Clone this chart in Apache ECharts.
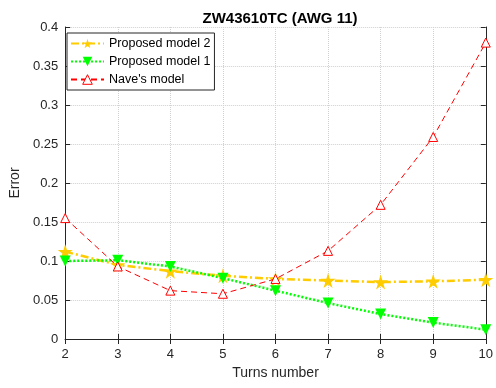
<!DOCTYPE html>
<html>
<head>
<meta charset="utf-8">
<script src="https://cdn.jsdelivr.net/npm/echarts@6/dist/echarts.min.js"></script>
<style>
html,body{margin:0;padding:0;background:#fff;}
#chart{width:496px;height:388px;}
</style>
</head>
<body>
<div id="chart"></div>
<script>
// Turns number on the x axis
const turns = [2, 3, 4, 5, 6, 7, 8, 9, 10];
// Error for each model
const proposed2 = [0.112, 0.095, 0.087, 0.081, 0.077, 0.075, 0.073, 0.074, 0.076];
const proposed1 = [0.100, 0.101, 0.093, 0.078, 0.062, 0.046, 0.032, 0.021, 0.012];
const naveModel = [0.155, 0.093, 0.062, 0.058, 0.077, 0.113, 0.172, 0.259, 0.380];
const seriesNames = ['Proposed model 2', 'Proposed model 1', "Nave's model"];

const FONT = '"Liberation Sans", Arial, sans-serif';
const starPath = 'path://M50,0 L61,35 L98,35 L68,57 L79,91 L50,70 L21,91 L32,57 L2,35 L39,35 Z';

const pairs = vals => turns.map((t, i) => [t, vals[i]]);

const chart = echarts.init(document.getElementById('chart'), null, {renderer: 'canvas'});

const axisLine = {show: true, lineStyle: {color: '#262626', width: 1}};
const gridLine = {show: true, lineStyle: {color: '#d0d0d0', type: [1, 1], width: 1}};
const ticks = {show: true, inside: true, length: 5, lineStyle: {color: '#262626'}};

chart.setOption({
  animation: false,
  backgroundColor: '#fff',
  title: {
    text: 'ZW43610TC (AWG 11)',
    left: 275, top: 6, textAlign: 'center',
    textStyle: {fontFamily: FONT, fontSize: 15, fontWeight: 'bold', color: '#000'}
  },
  grid: {left: 62, right: 9, top: 27, bottom: 49},
  legend: {
    data: [
      {name: seriesNames[0]},
      {name: seriesNames[1]},
      {name: seriesNames[2], itemStyle: {borderWidth: 1}}
    ],
    orient: 'vertical',
    left: 67, top: 33,
    padding: [4, 4, 4, 3],
    itemGap: 5,
    itemWidth: 33, itemHeight: 12,
    backgroundColor: '#fff',
    borderColor: '#262626', borderWidth: 1, borderRadius: 0,
    textStyle: {fontFamily: FONT, fontSize: 12.5, color: '#000'}
  },
  xAxis: [{
    type: 'value', min: 2, max: 10, interval: 1,
    name: 'Turns number', nameLocation: 'middle', nameGap: 26,
    nameTextStyle: {fontFamily: FONT, fontSize: 14, color: '#262626'},
    axisLine: axisLine, axisTick: ticks,
    axisLabel: {fontFamily: FONT, fontSize: 13, color: '#262626', margin: 9},
    splitLine: gridLine
  }, {
    type: 'value', min: 2, max: 10, interval: 1, position: 'top',
    axisLine: axisLine, axisTick: ticks,
    axisLabel: {show: false}, splitLine: {show: false}
  }],
  yAxis: [{
    type: 'value', min: 0, max: 0.4, interval: 0.05,
    name: 'Error', nameLocation: 'middle', nameGap: 39,
    nameTextStyle: {fontFamily: FONT, fontSize: 14, color: '#262626'},
    axisLine: axisLine, axisTick: ticks,
    axisLabel: {fontFamily: FONT, fontSize: 13, color: '#262626', margin: 7,
      formatter: v => String(Math.round(v * 100) / 100)},
    splitLine: gridLine
  }, {
    type: 'value', min: 0, max: 0.4, interval: 0.05, position: 'right',
    axisLine: axisLine, axisTick: ticks,
    axisLabel: {show: false}, splitLine: {show: false}
  }],
  series: [{
    name: seriesNames[0], type: 'line', data: pairs(proposed2),
    symbol: starPath, symbolSize: 15,
    itemStyle: {color: '#FFCC00'},
    lineStyle: {color: '#FFCC00', width: 2.5, type: [8, 3, 2, 3]},
    z: 3
  }, {
    name: seriesNames[1], type: 'line', data: pairs(proposed1),
    symbol: 'triangle', symbolRotate: 180, symbolSize: 11,
    itemStyle: {color: '#00FF00'},
    lineStyle: {color: '#00FF00', width: 2.5, type: [2, 2]},
    z: 4
  }, {
    name: seriesNames[2], type: 'line', data: pairs(naveModel),
    symbol: 'triangle', symbolSize: 9,
    itemStyle: {color: '#ffffff', borderColor: '#FF0000', borderWidth: 1},
    lineStyle: {color: '#FF0000', width: 1, type: [6, 4]},
    z: 5
  }]
});
</script>
</body>
</html>
